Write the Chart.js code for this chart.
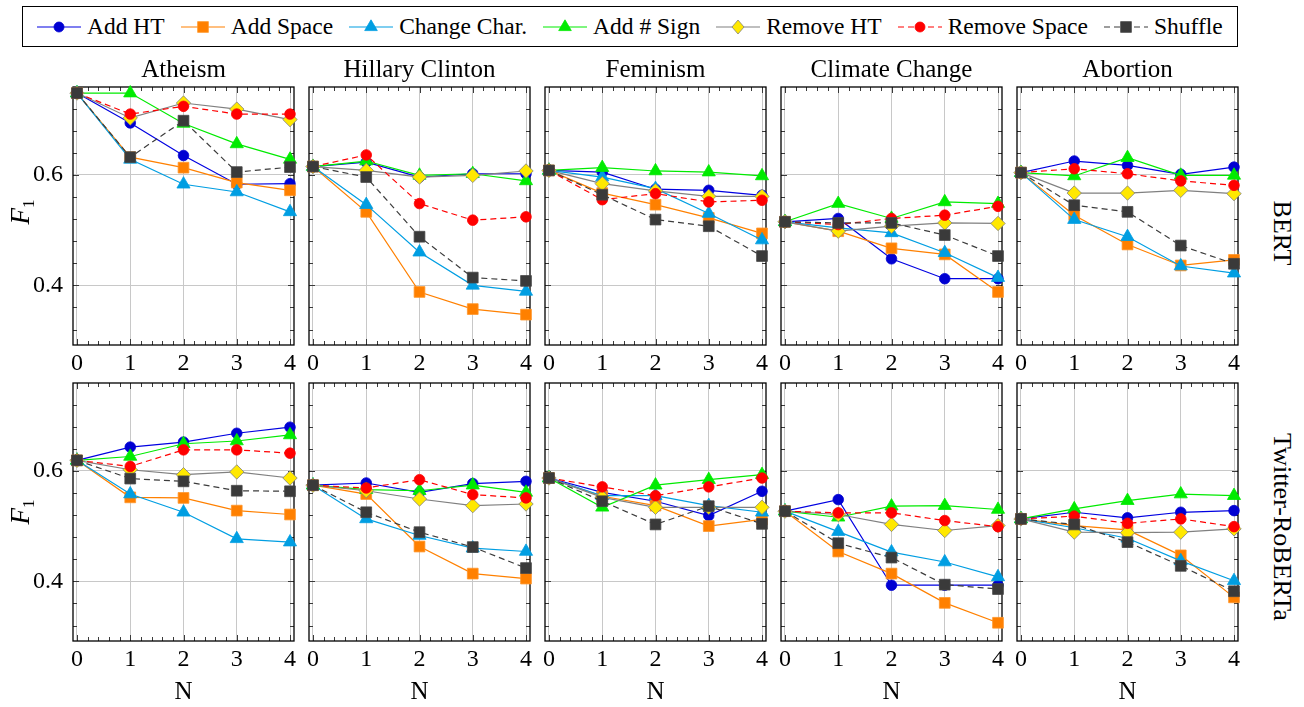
<!DOCTYPE html>
<html><head><meta charset="utf-8">
<script src="https://cdn.jsdelivr.net/npm/chart.js@4.4.0/dist/chart.umd.min.js"></script>
<style>
html,body{margin:0;padding:0;background:#fff;}
#root{position:relative;width:1304px;height:707px;overflow:hidden;font-family:"Liberation Serif","DejaVu Serif","Noto Serif","Times New Roman",Times,serif;color:#000;}
canvas{position:absolute;}
#legend{position:absolute;left:22px;top:6px;width:1216px;height:41px;box-sizing:border-box;border:1px solid #000;display:flex;align-items:center;padding-left:14px;font-size:23.5px;background:#fff;}
.item{display:flex;align-items:center;margin-right:16px;white-space:nowrap;}
.item svg{margin-right:6px;flex:none;}
.rot{position:absolute;white-space:nowrap;line-height:1;}
</style></head><body><div id="root"><div id="legend"></div></div>
<script>
// ---------- data ----------
const N_VALUES = [0, 1, 2, 3, 4];
const SERIES_NAMES = ['Add HT', 'Add Space', 'Change Char.', 'Add # Sign', 'Remove HT', 'Remove Space', 'Shuffle'];
const TOPICS = ['Atheism', 'Hillary Clinton', 'Feminism', 'Climate Change', 'Abortion'];
const MODELS = ['BERT', 'Twitter-RoBERTa'];
const Y_TICKS = [0.4, 0.6];
const X_TICKS = [0, 1, 2, 3, 4];

// rows: Add HT, Add Space, Change Char., Add # Sign, Remove HT, Remove Space, Shuffle
const BERT_ATHEISM = [
  [0.748, 0.694, 0.635, 0.583, 0.584],
  [0.748, 0.632, 0.613, 0.586, 0.572],
  [0.748, 0.628, 0.583, 0.569, 0.533],
  [0.748, 0.748, 0.693, 0.656, 0.628],
  [0.748, 0.703, 0.730, 0.719, 0.700],
  [0.748, 0.710, 0.724, 0.710, 0.710],
  [0.748, 0.632, 0.698, 0.605, 0.614]
];
const BERT_HILLARY = [
  [0.615, 0.623, 0.596, 0.602, 0.602],
  [0.615, 0.533, 0.388, 0.357, 0.347],
  [0.615, 0.546, 0.460, 0.400, 0.389],
  [0.615, 0.625, 0.599, 0.602, 0.589],
  [0.615, 0.608, 0.596, 0.599, 0.607],
  [0.615, 0.636, 0.548, 0.518, 0.524],
  [0.615, 0.596, 0.488, 0.414, 0.408]
];
const BERT_FEMINISM = [
  [0.608, 0.605, 0.574, 0.572, 0.563],
  [0.608, 0.567, 0.546, 0.522, 0.494],
  [0.608, 0.596, 0.575, 0.530, 0.482],
  [0.608, 0.613, 0.607, 0.605, 0.598],
  [0.608, 0.584, 0.571, 0.561, 0.561],
  [0.608, 0.555, 0.566, 0.551, 0.554],
  [0.608, 0.564, 0.519, 0.507, 0.453]
];
const BERT_CLIMATE = [
  [0.515, 0.521, 0.448, 0.412, 0.412],
  [0.515, 0.498, 0.467, 0.456, 0.388],
  [0.515, 0.504, 0.495, 0.459, 0.414],
  [0.515, 0.548, 0.521, 0.551, 0.548],
  [0.515, 0.498, 0.507, 0.513, 0.512],
  [0.515, 0.510, 0.521, 0.527, 0.543],
  [0.515, 0.513, 0.513, 0.491, 0.453]
];
const BERT_ABORTION = [
  [0.604, 0.625, 0.617, 0.601, 0.614],
  [0.604, 0.527, 0.474, 0.436, 0.446],
  [0.604, 0.519, 0.488, 0.435, 0.422],
  [0.604, 0.598, 0.631, 0.599, 0.599],
  [0.604, 0.567, 0.567, 0.572, 0.566],
  [0.604, 0.611, 0.602, 0.589, 0.581],
  [0.604, 0.545, 0.533, 0.472, 0.439]
];
const ROBERTA_ATHEISM = [
  [0.619, 0.643, 0.652, 0.668, 0.679],
  [0.619, 0.552, 0.551, 0.528, 0.521],
  [0.619, 0.558, 0.525, 0.477, 0.471],
  [0.619, 0.626, 0.649, 0.654, 0.665],
  [0.619, 0.602, 0.593, 0.598, 0.587],
  [0.619, 0.608, 0.638, 0.638, 0.632],
  [0.619, 0.586, 0.581, 0.564, 0.563]
];
const ROBERTA_HILLARY = [
  [0.574, 0.578, 0.561, 0.577, 0.581],
  [0.574, 0.558, 0.463, 0.414, 0.405],
  [0.574, 0.513, 0.483, 0.460, 0.454],
  [0.574, 0.566, 0.564, 0.574, 0.561],
  [0.574, 0.564, 0.549, 0.537, 0.540],
  [0.574, 0.569, 0.584, 0.557, 0.551],
  [0.574, 0.525, 0.489, 0.462, 0.424]
];
const ROBERTA_FEMINISM = [
  [0.587, 0.561, 0.545, 0.519, 0.563],
  [0.587, 0.554, 0.537, 0.500, 0.512],
  [0.587, 0.555, 0.555, 0.537, 0.525],
  [0.587, 0.534, 0.574, 0.584, 0.593],
  [0.587, 0.552, 0.534, 0.534, 0.534],
  [0.587, 0.571, 0.555, 0.571, 0.587],
  [0.587, 0.545, 0.503, 0.536, 0.504]
];
const ROBERTA_CLIMATE = [
  [0.527, 0.548, 0.393, 0.393, 0.393],
  [0.527, 0.454, 0.414, 0.361, 0.325],
  [0.527, 0.490, 0.453, 0.435, 0.408],
  [0.527, 0.516, 0.536, 0.537, 0.530],
  [0.527, 0.521, 0.503, 0.492, 0.501],
  [0.527, 0.524, 0.524, 0.510, 0.499],
  [0.527, 0.469, 0.443, 0.394, 0.386]
];
const ROBERTA_ABORTION = [
  [0.513, 0.525, 0.515, 0.525, 0.528],
  [0.513, 0.501, 0.493, 0.447, 0.371],
  [0.513, 0.497, 0.478, 0.437, 0.401],
  [0.513, 0.531, 0.546, 0.558, 0.555],
  [0.513, 0.489, 0.488, 0.489, 0.495],
  [0.513, 0.518, 0.505, 0.513, 0.499],
  [0.513, 0.503, 0.471, 0.428, 0.382]
];
const BERT_PANELS = [BERT_ATHEISM, BERT_HILLARY, BERT_FEMINISM, BERT_CLIMATE, BERT_ABORTION];
const ROBERTA_PANELS = [ROBERTA_ATHEISM, ROBERTA_HILLARY, ROBERTA_FEMINISM, ROBERTA_CLIMATE, ROBERTA_ABORTION];
const PANELS = [BERT_PANELS, ROBERTA_PANELS];

// ---------- styles ----------
const FONT = '"Liberation Serif", "DejaVu Serif", "Noto Serif", "Times New Roman", Times, serif';
const STYLES = [
  {line: 'rgb(0,0,225)',   fill: 'rgb(0,0,210)',   edge: 'rgb(0,0,210)',   shape: 'circle',   r: 5.3, dash: []},
  {line: 'rgb(255,128,0)', fill: 'rgb(255,128,0)', edge: 'rgb(255,150,40)', shape: 'rect',    r: 7.6, dash: []},
  {line: 'rgb(0,158,226)', fill: 'rgb(0,158,226)', edge: 'rgb(0,158,226)', shape: 'triangle', r: 7.6, dash: []},
  {line: 'rgb(0,235,0)',   fill: 'rgb(0,235,0)',   edge: 'rgb(0,235,0)',   shape: 'triangle', r: 7.6, dash: []},
  {line: 'rgb(128,128,128)', fill: 'rgb(255,232,0)', edge: 'rgb(128,128,128)', shape: 'rectRot', r: 7.2, dash: []},
  {line: 'rgb(255,0,0)',   fill: 'rgb(255,0,0)',   edge: 'rgb(255,0,0)',   shape: 'circle',   r: 5.3, dash: [6, 4]},
  {line: 'rgb(60,60,60)',  fill: 'rgb(58,58,58)',  edge: 'rgb(70,70,70)',  shape: 'rect',     r: 7.6, dash: [6, 4]}
];
const GRID = 'rgb(200,200,200)';

// ---------- layout ----------
const PLOT_LEFT = [73, 309, 545, 781, 1017];
const PLOT_TOP = [87, 383];
const PLOT_W = 221, PLOT_H = 258;
const Y_MIN = 0.292, Y_MAX = 0.759, X_MIN = -0.075, X_MAX = 4.075;

const root = document.getElementById('root');

const framePlugin = {
  id: 'pgfFrame',
  beforeDatasetsDraw(chart) {
    const {ctx, chartArea: a, scales: {x, y}} = chart;
    ctx.save();
    ctx.strokeStyle = '#3a3a3a';
    ctx.lineWidth = 1;
    const seg = (x1, y1, x2, y2) => { ctx.beginPath(); ctx.moveTo(x1, y1); ctx.lineTo(x2, y2); ctx.stroke(); };
    for (let k = 0; k <= 20; k++) {
      const px = Math.round(x.getPixelForValue(k * 0.2)) + 0.5;
      const len = (k % 5 === 0) ? 6 : 4;
      seg(px, a.top, px, a.top + len);
      seg(px, a.bottom, px, a.bottom - len);
    }
    const kMin = Math.ceil(Y_MIN / 0.04 - 1e-6), kMax = Math.floor(Y_MAX / 0.04 + 1e-6);
    for (let k = kMin; k <= kMax; k++) {
      const py = Math.round(y.getPixelForValue(k * 0.04)) + 0.5;
      const len = (k % 5 === 0) ? 6 : 4;
      seg(a.left, py, a.left + len, py);
      seg(a.right, py, a.right - len, py);
    }
    ctx.strokeStyle = '#000';
    ctx.lineWidth = 1.3;
    ctx.strokeRect(a.left, a.top, a.right - a.left, a.bottom - a.top);
    ctx.restore();
  }
};

function makePanel(row, col) {
  const L = 68, R = 14;
  const T = row === 0 ? 32 : 28;
  const B = row === 0 ? 30 : 70;
  const cv = document.createElement('canvas');
  cv.width = L + PLOT_W + R;
  cv.height = T + PLOT_H + B;
  cv.style.left = (PLOT_LEFT[col] - L) + 'px';
  cv.style.top = (PLOT_TOP[row] - T) + 'px';
  root.appendChild(cv);
  const panel = PANELS[row][col];
  new Chart(cv, {
    type: 'line',
    data: {
      datasets: panel.map((vals, i) => ({
        label: SERIES_NAMES[i],
        data: N_VALUES.map((n, j) => ({x: n, y: vals[j]})),
        borderColor: STYLES[i].line,
        borderWidth: 1.2,
        borderDash: STYLES[i].dash,
        pointStyle: STYLES[i].shape,
        pointRadius: STYLES[i].r,
        pointBackgroundColor: STYLES[i].fill,
        pointBorderColor: STYLES[i].edge,
        pointBorderWidth: 0.8,
        fill: false,
        tension: 0,
        clip: false,
        order: SERIES_NAMES.length - 1 - i
      }))
    },
    options: {
      responsive: false,
      animation: false,
      devicePixelRatio: 1,
      events: [],
      layout: {padding: {top: row === 0 ? 0 : T, right: R, left: 0, bottom: 0}},
      plugins: {
        legend: {display: false},
        tooltip: {enabled: false},
        title: {
          display: row === 0, text: TOPICS[col], fullSize: false, color: '#000',
          font: {family: FONT, size: 25, weight: 'normal', lineHeight: 1.2},
          padding: {top: 0, bottom: 2}
        }
      },
      scales: {
        x: {
          type: 'linear', min: X_MIN, max: X_MAX,
          afterBuildTicks: s => { s.ticks = X_TICKS.map(v => ({value: v})); },
          afterFit: s => { s.height = B; },
          ticks: {font: {family: FONT, size: 24, lineHeight: 1.2}, color: '#000', padding: 4, maxRotation: 0, autoSkip: false,
                  callback: v => String(v)},
          grid: {color: GRID, lineWidth: 1, drawTicks: false},
          border: {display: false},
          title: {display: row === 1, text: 'N', color: '#000',
                  font: {family: FONT, size: 25, lineHeight: 1.2}, padding: {top: 0, bottom: 4}}
        },
        y: {
          type: 'linear', min: Y_MIN, max: Y_MAX,
          afterBuildTicks: s => { s.ticks = Y_TICKS.map(v => ({value: v})); },
          afterFit: s => { s.width = L; },
          ticks: {display: col === 0, font: {family: FONT, size: 24, lineHeight: 1.2}, color: '#000', padding: 10,
                  callback: v => Number(v).toFixed(1)},
          grid: {color: GRID, lineWidth: 1, drawTicks: false},
          border: {display: false}
        }
      }
    },
    plugins: [framePlugin]
  });
}

for (let r = 0; r < 2; r++) for (let c = 0; c < 5; c++) makePanel(r, c);

// ---------- legend ----------
function markerSvg(st) {
  const cx = 22, cy = 11;
  let m = '';
  if (st.shape === 'circle') m = `<circle cx="${cx}" cy="${cy}" r="5" fill="${st.fill}" stroke="${st.edge}" stroke-width="0.8"/>`;
  else if (st.shape === 'rect') m = `<rect x="${cx - 5.3}" y="${cy - 5.3}" width="10.6" height="10.6" fill="${st.fill}" stroke="${st.edge}" stroke-width="0.8"/>`;
  else if (st.shape === 'triangle') m = `<polygon points="${cx},${cy - 7.2} ${cx + 6.3},${cy + 3.6} ${cx - 6.3},${cy + 3.6}" fill="${st.fill}" stroke="${st.edge}" stroke-width="0.8"/>`;
  else m = `<polygon points="${cx},${cy - 7} ${cx + 6},${cy} ${cx},${cy + 7} ${cx - 6},${cy}" fill="${st.fill}" stroke="${st.edge}" stroke-width="0.8"/>`;
  const dash = st.dash.length ? `stroke-dasharray="${st.dash.join(' ')}"` : '';
  return `<svg width="44" height="22" viewBox="0 0 44 22"><line x1="0" y1="${cy}" x2="44" y2="${cy}" stroke="${st.line}" stroke-width="1.2" ${dash}/>${m}</svg>`;
}
const legend = document.getElementById('legend');
SERIES_NAMES.forEach((name, i) => {
  const it = document.createElement('div');
  it.className = 'item';
  it.innerHTML = markerSvg(STYLES[i]);
  const sp = document.createElement('span');
  sp.textContent = name;
  it.appendChild(sp);
  legend.appendChild(it);
});

// ---------- rotated labels ----------
function rotLabel(html, cx, cy, deg, size) {
  const d = document.createElement('div');
  d.className = 'rot';
  d.style.fontSize = size + 'px';
  d.innerHTML = html;
  root.appendChild(d);
  const w = d.offsetWidth, h = d.offsetHeight;
  d.style.left = (cx - w / 2) + 'px';
  d.style.top = (cy - h / 2) + 'px';
  d.style.transform = `rotate(${deg}deg)`;
}
const F1 = '<i>F</i><sub style="font-size:17px;vertical-align:-5px">1</sub>';
rotLabel(F1, 21, 212, -90, 27);
rotLabel(F1, 21, 512, -90, 27);
rotLabel(MODELS[0], 1282, 233, 90, 26);
rotLabel(MODELS[1], 1282, 527, 90, 26);
</script></body></html>
